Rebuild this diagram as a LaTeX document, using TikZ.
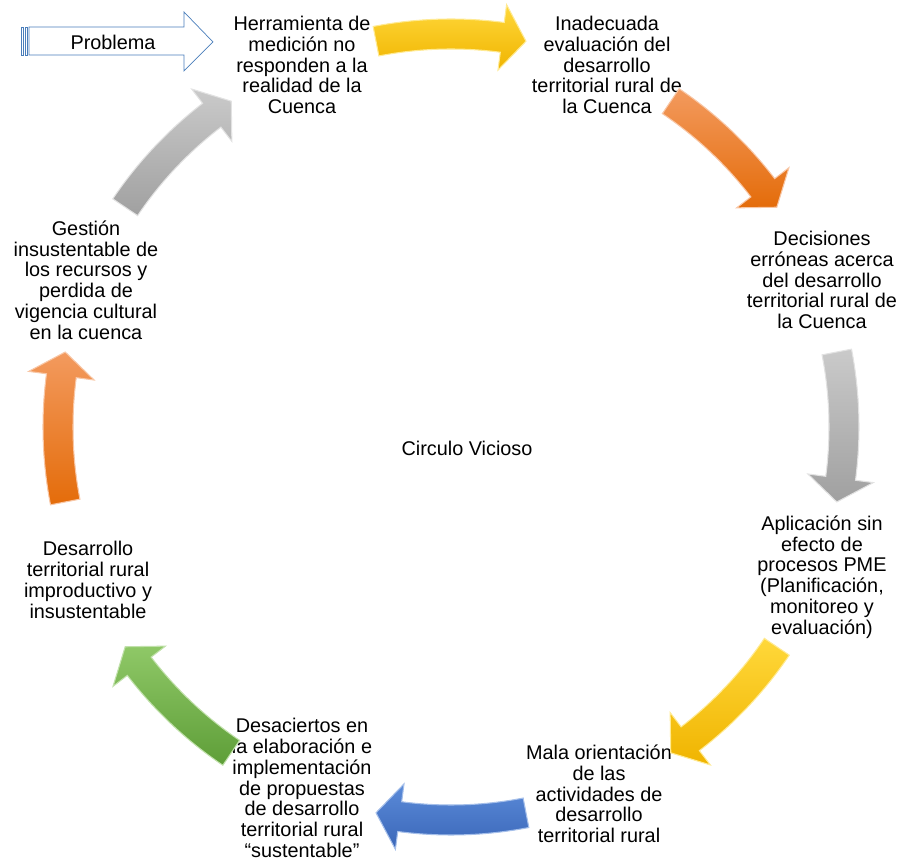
\documentclass[tikz,border=0pt]{standalone}
\usepackage{fontspec}
\setmainfont{Liberation Sans}
\definecolor{amarilloA}{HTML}{FFD83A}
\definecolor{amarilloB}{HTML}{F0B400}
\definecolor{naranjaA}{HTML}{F39A5E}
\definecolor{naranjaB}{HTML}{E46C0A}
\definecolor{grisA}{HTML}{CACACA}
\definecolor{grisB}{HTML}{A0A0A0}
\definecolor{azulA}{HTML}{5B8BD9}
\definecolor{azulB}{HTML}{3A66B8}
\definecolor{verdeA}{HTML}{8FC867}
\definecolor{verdeB}{HTML}{5E9E38}
\definecolor{borde}{HTML}{4A7EBB}
\begin{document}
\begin{tikzpicture}[x=0.02cm,y=0.02cm,
    nodes={draw=none,align=center,inner sep=0pt,font=\fontsize{11.3}{11.8}\selectfont}]
  \useasboundingbox (0,0) rectangle (900,863);
  \coordinate (centro) at (451,436);
  % problema
  \draw[borde,fill=white] (21,808) rectangle (23,836);
  \draw[borde,fill=white] (25,808) rectangle (27,836);
  \draw[borde,fill=white] (29,808) -- (184,808) -- (184,792) -- (213,821)
    -- (184,851) -- (184,836) -- (29,836) -- cycle;
  \node (problema) at (113,821) {Problema};
  % textos del ciclo
  \node (herramienta) at (302,798) {Herramienta de\\medición no\\responden a la\\realidad de la\\Cuenca};
  \node (inadecuada) at (607,798) {Inadecuada\\evaluación del\\desarrollo\\territorial rural de\\la Cuenca};
  \node (decisiones) at (822,583) {Decisiones\\erróneas acerca\\del desarrollo\\territorial rural de\\la Cuenca};
  \node (aplicacion) at (822,286) {Aplicación sin\\efecto de\\procesos PME\\(Planificación,\\monitoreo y\\evaluación)};
  \node (mala) at (599,69) {Mala orientación\\de las\\actividades de\\desarrollo\\territorial rural};
  \node (desaciertos) at (302,75) {Desaciertos en\\la elaboración e\\implementación\\de propuestas\\de desarrollo\\territorial rural\\“sustentable”};
  \node (desarrollo) at (88,283) {Desarrollo\\territorial rural\\improductivo y\\insustentable};
  \node (gestion) at (86,583) {Gestión\\insustentable de\\los recursos y\\perdida de\\vigencia cultural\\en la cuenca};
  \node (circulo) at (467,415) {Circulo Vicioso};
  % flechas del ciclo
  \foreach \th/\cl/\cd in {90/amarilloA/amarilloB, 45/naranjaA/naranjaB,
      0/grisA/grisB, -45/amarilloA/amarilloB, -90/azulA/azulB,
      -135/verdeA/verdeB, -180/naranjaA/naranjaB, -225/grisA/grisB}{
    \pgfmathsetmacro\ta{\th+11}
    \pgfmathsetmacro\tb{\th-7.5}
    \pgfmathsetmacro\tc{\th-11}
    \shade[top color=\cl, bottom color=\cd, draw=\cl!55!white, line width=0.6pt]
      ([shift={(\ta:408)}]centro) arc[start angle=\ta, end angle=\tb, radius=408]
      -- ([shift={(\tb:426)}]centro) -- ([shift={(\tc:393)}]centro)
      -- ([shift={(\tb:360)}]centro) -- ([shift={(\tb:378)}]centro)
      arc[start angle=\tb, end angle=\ta, radius=378] -- cycle;
  }
\end{tikzpicture}
\end{document}
